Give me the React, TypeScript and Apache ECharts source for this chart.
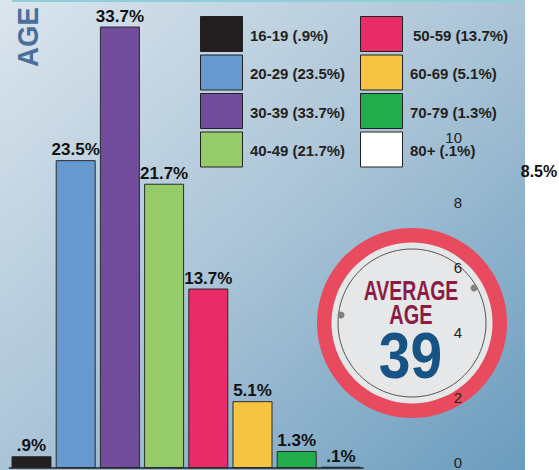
import React, { useEffect, useRef } from "react";
import * as echarts from "echarts";

const categories = ["16-19", "20-29", "30-39", "40-49", "50-59", "60-69", "70-79", "80+"];
const shares = [0.9, 23.5, 33.7, 21.7, 13.7, 5.1, 1.3, 0.1];
const barColors = ["#231f20", "#6599d0", "#724d9c", "#95cb68", "#e92c67", "#f7c342", "#21ad4b", "#ffffff"];
const sideCategories = ["Other"];
const sideValues = [8.5];
const averageAge = 39;
const titleText = "AGE";
const averageLabel = ["AVERAGE", "AGE"];

const fmt = (v: number) => (v < 1 ? String(v).replace(/^0/, "") : String(v)) + "%";

const FONT = "Liberation Sans";

export default function App() {
  const ref = useRef<HTMLDivElement>(null);

  useEffect(() => {
    if (!ref.current) return;
    const chart = echarts.init(ref.current, undefined, { renderer: "svg" });

    const cx = 412;
    const cy = 323;

    const legendEls: any[] = [];
    categories.forEach((c, i) => {
      const col = Math.floor(i / 4);
      const row = i % 4;
      const x = 200 + col * 160;
      const y = 16 + row * 38.5;
      legendEls.push({
        type: "rect",
        z: 5,
        shape: { x: x + 0.5, y: y + 0.5, width: 42, height: 35 },
        style: { fill: barColors[i], stroke: "#222", lineWidth: 1 },
      });
      legendEls.push({
        type: "text",
        z: 5,
        x: x + 50 + (col === 1 && row === 0 ? 3 : 0),
        y: y + 19,
        style: {
          text: `${c} (${fmt(shares[i])})`,
          fill: "#231f20",
          font: `bold 15px "${FONT}"`,
          align: "left",
          verticalAlign: "middle",
        },
      });
    });

    const option: any = {
      animation: false,
      backgroundColor: "#ffffff",
      grid: [
        { left: 9.4, right: 196, top: 9.5, bottom: 2, containLabel: false },
        { left: 519, width: 40, top: 137.5, bottom: 4, containLabel: false },
      ],
      xAxis: [
        {
          type: "category",
          gridIndex: 0,
          data: categories,
          axisLine: { show: true, lineStyle: { color: "#222", width: 1.5 } },
          axisTick: { show: false },
          axisLabel: { show: false },
        },
        {
          type: "category",
          gridIndex: 1,
          data: sideCategories,
          show: false,
        },
      ],
      yAxis: [
        { type: "value", gridIndex: 0, min: 0, max: 35, show: false },
        {
          type: "value",
          gridIndex: 1,
          min: 0,
          max: 10,
          interval: 2,
          offset: 49,
          z: 8,
          axisLine: { show: false },
          axisTick: { show: false },
          splitLine: { show: false },
          axisLabel: { color: "#222", fontSize: 15, fontFamily: FONT, margin: 8 },
        },
      ],
      series: [
        {
          type: "bar",
          name: "Share",
          xAxisIndex: 0,
          yAxisIndex: 0,
          barCategoryGap: "9.5%",
          data: shares.map((v, i) => ({
            value: v,
            itemStyle: { color: barColors[i], borderColor: "#2a2a2a", borderWidth: 1 },
          })),
          label: {
            show: true,
            position: "top",
            distance: 2,
            formatter: (p: any) => fmt(p.value),
            color: "#111",
            fontWeight: "bold",
            fontSize: 17,
            fontFamily: FONT,
          },
          z: 3,
        },
        {
          type: "bar",
          name: "Other",
          xAxisIndex: 1,
          yAxisIndex: 1,
          barWidth: 20,
          data: sideValues,
          itemStyle: { color: "rgba(255,255,255,0)" },
          label: {
            show: true,
            position: "top",
            distance: 7,
            formatter: (p: any) => fmt(p.value),
            color: "#111",
            fontWeight: "bold",
            fontSize: 16,
            fontFamily: FONT,
          },
        },
      ],
      graphic: [
        {
          type: "rect",
          z: -10,
          silent: true,
          shape: { x: 0, y: 0, width: 525, height: 470 },
          style: {
            fill: new echarts.graphic.LinearGradient(0, 0, 1, 1, [
              { offset: 0, color: "#dbe5ed" },
              { offset: 0.5, color: "#aac4d7" },
              { offset: 1, color: "#6a9cbe" },
            ]),
          },
        },
        {
          type: "rect",
          z: -9,
          shape: { x: 12, y: 0, width: 504, height: 2 },
          style: { fill: "#8fd0d8" },
        },
        {
          type: "text",
          z: 5,
          x: 28,
          y: 37,
          rotation: Math.PI / 2,
          scaleX: 0.92,
          style: {
            text: titleText,
            fill: "#4a6f9c",
            font: `bold 30px "${FONT}"`,
            align: "center",
            verticalAlign: "middle",
          },
        },
        ...legendEls,
        {
          type: "circle",
          z: 1,
          shape: { cx, cy, r: 95 },
          style: { fill: "#e84a5e" },
        },
        {
          type: "circle",
          z: 1,
          shape: { cx, cy, r: 80.5 },
          style: { fill: "#e6e7e9" },
        },
        {
          type: "circle",
          z: 1,
          shape: { cx, cy, r: 74 },
          style: { fill: "none", stroke: "#555", lineWidth: 1 },
        },
        {
          type: "circle",
          z: 1,
          shape: { cx: 341, cy: 315, r: 3.5 },
          style: { fill: "#808080" },
        },
        {
          type: "circle",
          z: 1,
          shape: { cx: 474, cy: 288, r: 3.5 },
          style: { fill: "#808080" },
        },
        {
          type: "text",
          z: 2,
          x: 411,
          y: 291,
          scaleX: 0.72,
          style: {
            text: averageLabel[0],
            fill: "#8b1c45",
            font: `bold 27px "${FONT}"`,
            align: "center",
            verticalAlign: "middle",
          },
        },
        {
          type: "text",
          z: 2,
          x: 411,
          y: 314,
          scaleX: 0.74,
          style: {
            text: averageLabel[1],
            fill: "#8b1c45",
            font: `bold 27px "${FONT}"`,
            align: "center",
            verticalAlign: "middle",
          },
        },
        {
          type: "text",
          z: 2,
          x: 410.5,
          y: 356,
          scaleX: 0.89,
          style: {
            text: String(averageAge),
            fill: "#175384",
            font: `bold 64px "${FONT}"`,
            align: "center",
            verticalAlign: "middle",
          },
        },
      ],
    };

    chart.setOption(option);
    return () => chart.dispose();
  }, []);

  return (
    <div
      ref={ref}
      style={{ position: "fixed", left: 0, top: 0, width: 559, height: 470 }}
    />
  );
}
